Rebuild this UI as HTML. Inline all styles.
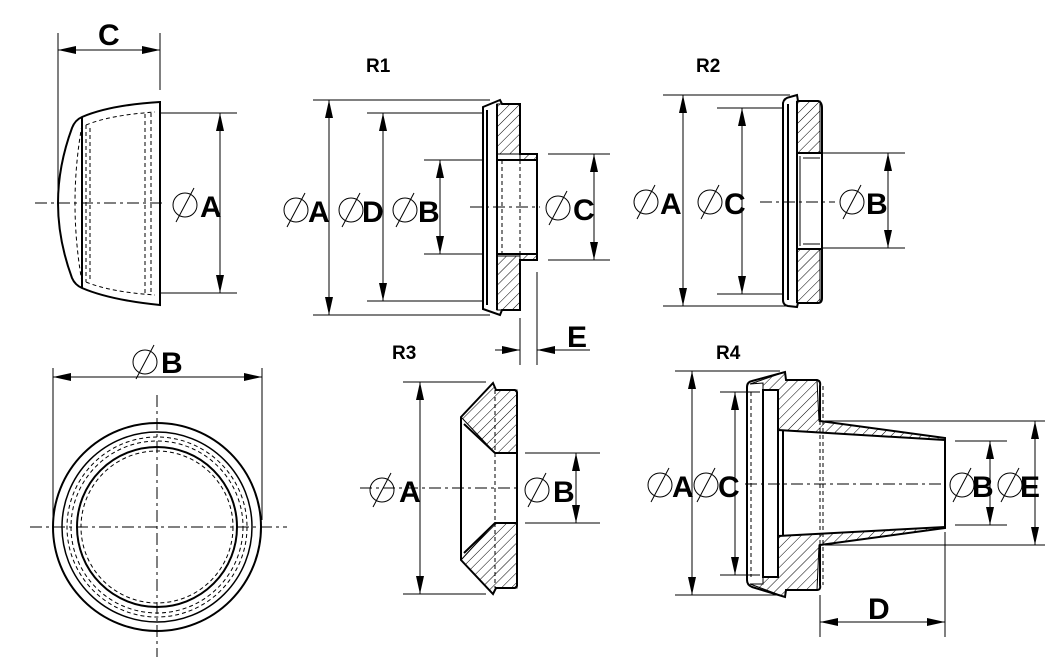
<!DOCTYPE html>
<html><head><meta charset="utf-8"><style>
html,body{margin:0;padding:0;background:#fff}
svg{display:block}
text{font-family:"Liberation Sans Narrow","Liberation Sans",sans-serif;font-weight:bold;fill:#000}
.r{font-family:"Liberation Sans",sans-serif}
</style></head><body>
<svg width="1060" height="663" viewBox="0 0 1060 663" xmlns="http://www.w3.org/2000/svg">
<defs>
<marker id="a" viewBox="0 0 18 8" refX="18" refY="4" markerWidth="18" markerHeight="8" orient="auto-start-reverse" markerUnits="userSpaceOnUse"><path d="M0,0L18,4L0,8z" fill="#000"/></marker>
<pattern id="h" width="7" height="7" patternUnits="userSpaceOnUse" patternTransform="rotate(45)"><line x1="0" y1="0" x2="0" y2="7" stroke="#000" stroke-width="1"/></pattern>
<g id="dia"><circle cx="0" cy="0" r="12" fill="none" stroke="#000" stroke-width="1"/><line x1="-9" y1="17" x2="9" y2="-17" stroke="#000" stroke-width="1"/></g>
</defs>
<g stroke="#000" fill="none" stroke-width="1">
<!-- ===== Cap side view ===== -->
<line x1="58" y1="33" x2="58" y2="203"/><line x1="160" y1="33" x2="160" y2="90"/>
<line x1="58" y1="50" x2="160" y2="50" marker-start="url(#a)" marker-end="url(#a)"/>
<line x1="35" y1="203" x2="165" y2="203" stroke-dasharray="12,4,3,4"/>
<path d="M160,102 L160,305 Q110,300 82,288 Q75,285 72,278 Q58,240 58,203 Q58,166 72,128 Q75,120 82,117 Q110,105 160,102Z" stroke-width="2"/>
<line x1="82" y1="117" x2="82" y2="288" stroke-width="2"/>
<path d="M86,125 Q110,115 155,112 M86,282 Q110,292 155,295 M86,125 L86,282 M90,128 L90,280 M145,114 L145,293 M151,113 L151,294 M82,125 Q68,203 82,282" stroke-dasharray="4,3"/>
<line x1="160" y1="113" x2="237" y2="113"/><line x1="160" y1="293" x2="237" y2="293"/>
<line x1="220" y1="113" x2="220" y2="293" marker-start="url(#a)" marker-end="url(#a)"/>
<!-- ===== Front view ===== -->
<line x1="53" y1="368" x2="53" y2="520"/><line x1="262" y1="368" x2="262" y2="520"/>
<line x1="53" y1="377" x2="262" y2="377" marker-start="url(#a)" marker-end="url(#a)"/>
<circle cx="157" cy="527" r="104" stroke-width="2"/>
<circle cx="157" cy="527" r="95" stroke-width="1.5"/>
<circle cx="157" cy="527" r="80" stroke-width="2"/>
<circle cx="157" cy="527" r="90" stroke-dasharray="4,3"/>
<circle cx="157" cy="527" r="86" stroke-dasharray="4,3"/>
<circle cx="157" cy="527" r="76" stroke-dasharray="4,3"/>
<line x1="30" y1="527" x2="287" y2="527" stroke-dasharray="12,4,3,4"/>
<line x1="157" y1="395" x2="157" y2="657" stroke-dasharray="12,4,3,4"/>
<!-- ===== R1 ===== -->
<line x1="313" y1="100" x2="490" y2="100"/><line x1="313" y1="315" x2="490" y2="315"/>
<line x1="367" y1="113" x2="483" y2="113"/><line x1="367" y1="301" x2="483" y2="301"/>
<line x1="424" y1="160" x2="483" y2="160"/><line x1="424" y1="254" x2="483" y2="254"/>
<line x1="329" y1="100" x2="329" y2="315" marker-start="url(#a)" marker-end="url(#a)"/>
<line x1="383" y1="113" x2="383" y2="301" marker-start="url(#a)" marker-end="url(#a)"/>
<line x1="440" y1="160" x2="440" y2="254" marker-start="url(#a)" marker-end="url(#a)"/>
<path d="M497,104 L520,104 L520,154 L497,154Z M497,256 L520,256 L520,310 L497,310Z M520,154 L537,154 L537,160 L520,160Z M520,254 L537,254 L537,260 L520,260Z" fill="url(#h)"/>
<path d="M483,107 L500,100 L502,104 L520,104 L520,154 L537,154 L537,260 L520,260 L520,310 L502,310 L500,315 L483,309Z" stroke-width="2"/>
<path d="M487,110 L487,305 M497,104 L497,310 M497,160 L537,160 M497,254 L537,254" stroke-width="2"/>
<path d="M502,160 L502,254 M520,160 L520,254" stroke-dasharray="4,3"/>
<line x1="470" y1="207" x2="540" y2="207" stroke-dasharray="12,4,3,4"/>
<line x1="548" y1="154" x2="610" y2="154"/><line x1="548" y1="260" x2="610" y2="260"/>
<line x1="594" y1="154" x2="594" y2="260" marker-start="url(#a)" marker-end="url(#a)"/>
<line x1="520" y1="318" x2="520" y2="365"/><line x1="537" y1="272" x2="537" y2="365"/>
<line x1="495" y1="350" x2="520" y2="350" marker-end="url(#a)"/>
<line x1="562" y1="350" x2="537" y2="350" marker-end="url(#a)"/>
<line x1="537" y1="350" x2="590" y2="350"/>
<!-- ===== R2 ===== -->
<line x1="663" y1="95" x2="790" y2="95"/><line x1="663" y1="306" x2="790" y2="306"/>
<line x1="717" y1="108" x2="783" y2="108"/><line x1="717" y1="294" x2="783" y2="294"/>
<line x1="683" y1="95" x2="683" y2="306" marker-start="url(#a)" marker-end="url(#a)"/>
<line x1="742" y1="108" x2="742" y2="294" marker-start="url(#a)" marker-end="url(#a)"/>
<path d="M797,101 L820,101 L820,153 L797,153Z M797,249 L820,249 L820,303 L797,303Z" fill="url(#h)"/>
<path d="M783,103 Q784,98 790,97 L797,95 L798,101 L818,101 Q822,102 822,108 L822,298 Q822,303 818,303 L798,303 L797,307 L788,306 Q783,305 783,300Z" stroke-width="2"/>
<path d="M788,104 L788,300 M797,101 L797,303 M797,153 L822,153 M797,249 L822,249" stroke-width="2"/>
<path d="M800,156 L800,246 M803,158 L820,158 M803,244 L820,244"/>
<line x1="760" y1="202" x2="835" y2="202" stroke-dasharray="12,4,3,4"/>
<line x1="822" y1="153" x2="905" y2="153"/><line x1="822" y1="248" x2="905" y2="248"/>
<line x1="888" y1="153" x2="888" y2="248" marker-start="url(#a)" marker-end="url(#a)"/>
<!-- ===== R3 ===== -->
<line x1="403" y1="382" x2="486" y2="382"/><line x1="403" y1="594" x2="486" y2="594"/>
<line x1="420" y1="382" x2="420" y2="594" marker-start="url(#a)" marker-end="url(#a)"/>
<path d="M461,417 L493,383 L496,390 L517,390 L517,453 L495,453Z M461,560 L495,523 L517,523 L517,588 L496,588 L493,594Z" fill="url(#h)"/>
<path d="M461,417 L493,383 L496,390 L515,390 L517,392 L517,586 L515,588 L496,588 L493,594 L461,560Z" stroke-width="2"/>
<path d="M461,417 L461,560 M464,424 L495,453 L517,453 M464,553 L495,523 L517,523" stroke-width="2"/>
<path d="M495,390 L495,588" stroke-dasharray="4,3"/>
<line x1="360" y1="488" x2="520" y2="488" stroke-dasharray="12,4,3,4"/>
<line x1="525" y1="453" x2="600" y2="453"/><line x1="525" y1="523" x2="600" y2="523"/>
<line x1="576" y1="453" x2="576" y2="523" marker-start="url(#a)" marker-end="url(#a)"/>
<!-- ===== R4 ===== -->
<line x1="675" y1="371" x2="780" y2="371"/><line x1="675" y1="595" x2="780" y2="595"/>
<line x1="720" y1="392" x2="760" y2="392"/><line x1="720" y1="575" x2="760" y2="575"/>
<line x1="692" y1="371" x2="692" y2="595" marker-start="url(#a)" marker-end="url(#a)"/>
<line x1="735" y1="392" x2="735" y2="575" marker-start="url(#a)" marker-end="url(#a)"/>
<path d="M750,384 L785,372 L786,380 L817,380 L819,421 L945,438 L945,440 L783,430 L778,430 L778,390 L763,390 L763,383Z" fill="url(#h)"/>
<path d="M750,584 L785,597 L786,590 L817,590 L819,545 L945,528 L945,527 L783,536 L778,536 L778,577 L763,577 L763,584Z" fill="url(#h)"/>
<path d="M752,381 L785,372 L786,380 L817,380 Q821,381 820,386 L820,421 L945,438 L945,528 L820,545 L820,585 Q821,590 817,590 L786,590 L785,597 L752,587 Q747,585 747,580 L747,387 Q747,382 752,381Z" stroke-width="2"/>
<path d="M763,390 L778,390 L778,577 L763,577Z M778,430 L945,440 M778,536 L945,527 M783,430 L783,536" stroke-width="2"/>
<path d="M751,392 L751,577 M820,386 L820,585 M823,386 L823,585" stroke-dasharray="4,3"/>
<line x1="745" y1="484" x2="945" y2="484" stroke-dasharray="12,4,3,4"/>
<line x1="825" y1="421" x2="1045" y2="421"/><line x1="825" y1="545" x2="1045" y2="545"/>
<line x1="955" y1="441" x2="1007" y2="441"/><line x1="955" y1="525" x2="1007" y2="525"/>
<line x1="1035" y1="421" x2="1035" y2="545" marker-start="url(#a)" marker-end="url(#a)"/>
<line x1="990" y1="441" x2="990" y2="525" marker-start="url(#a)" marker-end="url(#a)"/>
<line x1="820" y1="595" x2="820" y2="637"/><line x1="945" y1="532" x2="945" y2="637"/>
<line x1="820" y1="622" x2="945" y2="622" marker-start="url(#a)" marker-end="url(#a)"/>
</g>
<use href="#dia" x="185" y="205"/>
<use href="#dia" x="296" y="210"/><use href="#dia" x="351" y="210"/><use href="#dia" x="405" y="210"/><use href="#dia" x="558" y="208"/>
<use href="#dia" x="646" y="202"/><use href="#dia" x="710" y="202"/><use href="#dia" x="852" y="202"/>
<use href="#dia" x="145" y="362"/>
<use href="#dia" x="382" y="490"/><use href="#dia" x="537" y="490"/>
<use href="#dia" x="660" y="485"/><use href="#dia" x="706" y="485"/><use href="#dia" x="962" y="485"/><use href="#dia" x="1010" y="485"/>
<g font-size="30">
<text x="98" y="45">C</text>
<text x="200" y="217">A</text>
<text x="161" y="373">B</text>
<text x="308" y="222">A</text><text x="362" y="222">D</text><text x="418" y="222">B</text><text x="573" y="220">C</text>
<text x="660" y="214">A</text><text x="724" y="214">C</text><text x="866" y="214">B</text>
<text x="567" y="347">E</text>
<text x="399" y="502">A</text><text x="553" y="502">B</text>
<text x="672" y="497">A</text><text x="718" y="497">C</text><text x="972" y="497">B</text><text x="1020" y="497">E</text>
<text x="868" y="619">D</text>
</g>
<g font-size="19" class="r">
<text class="r" x="366" y="72">R1</text><text class="r" x="696" y="72">R2</text><text class="r" x="392" y="359">R3</text><text class="r" x="716" y="359">R4</text>
</g>
</svg>
</body></html>
